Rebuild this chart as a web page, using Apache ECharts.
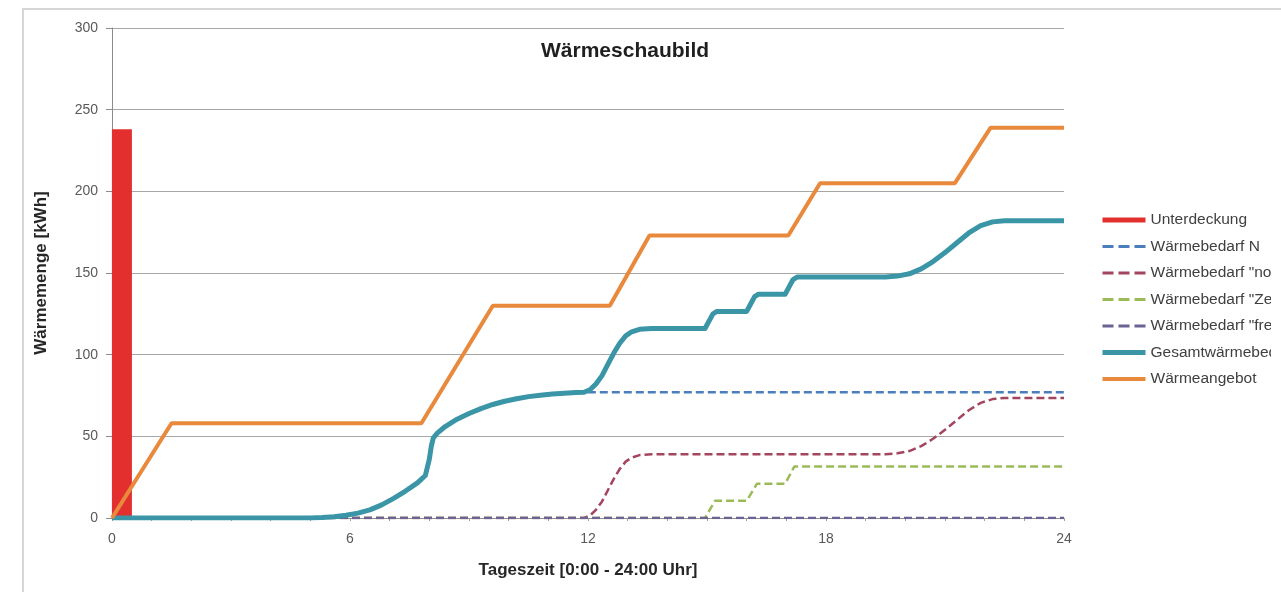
<!DOCTYPE html>
<html>
<head>
<meta charset="utf-8">
<script src="https://cdn.jsdelivr.net/npm/echarts@6/dist/echarts.min.js"></script>
<style>
  html, body { margin: 0; padding: 0; background: #ffffff; overflow: hidden; }
  #frame { position: absolute; left: 22px; top: 8px; width: 1300px; height: 620px;
           border-left: 2px solid #d6d6d6; border-top: 2px solid #d6d6d6; }
  #chart { position: absolute; left: 0; top: 0; width: 1271px; height: 592px; }
</style>
</head>
<body>
<div id="frame"></div>
<div id="chart"></div>
<script>
// Stunden des Tages [h], Wärmemengen [kWh]
const unterdeckung = [[0.25, 238]];

const bedarfN = [
  [0, 0], [5, 0], [5.3, 0.3], [5.6, 0.8], [5.9, 1.7], [6.2, 3], [6.5, 5], [6.8, 8],
  [7.1, 12], [7.4, 16.5], [7.7, 21.5], [7.9, 26], [8.0, 36], [8.05, 44], [8.1, 49],
  [8.2, 52], [8.4, 56], [8.7, 60.5], [9.0, 64], [9.3, 67], [9.6, 69.5], [9.9, 71.5],
  [10.2, 73], [10.5, 74.3], [10.8, 75.2], [11.1, 75.9], [11.4, 76.4], [11.7, 76.8],
  [11.95, 77], [24, 77]
];

const bedarfNormal = [
  [0, 0], [11.9, 0], [12.05, 1.5], [12.2, 5], [12.35, 10], [12.5, 17], [12.65, 24],
  [12.8, 30], [12.95, 34.5], [13.1, 37], [13.3, 38.5], [13.6, 39], [19.5, 39],
  [19.8, 39.6], [20.1, 41], [20.4, 44], [20.7, 48.5], [21.0, 54], [21.3, 60],
  [21.6, 66], [21.9, 70.5], [22.2, 72.8], [22.5, 73.5], [24, 73.5]
];

const bedarfZeit = [
  [0, 0], [14.95, 0], [15.2, 10.5], [16.0, 10.5], [16.26, 21],
  [16.97, 21], [17.2, 31.5], [24, 31.5]
];

const bedarfFrei = [[0, 0], [24, 0]];

const gesamt = [
  [0, 0], [5, 0], [5.3, 0.3], [5.6, 0.8], [5.9, 1.7], [6.2, 3], [6.5, 5], [6.8, 8],
  [7.1, 12], [7.4, 16.5], [7.7, 21.5], [7.9, 26], [8.0, 36], [8.05, 44], [8.1, 49],
  [8.2, 52], [8.4, 56], [8.7, 60.5], [9.0, 64], [9.3, 67], [9.6, 69.5], [9.9, 71.5],
  [10.2, 73], [10.5, 74.3], [10.8, 75.2], [11.1, 75.9], [11.4, 76.4], [11.7, 76.8],
  [11.9, 77], [12.05, 78.5], [12.2, 82], [12.35, 87], [12.5, 94], [12.65, 101],
  [12.8, 107], [12.95, 111.5], [13.1, 114], [13.3, 115.5], [13.6, 116],
  [14.95, 116], [15.05, 120.5], [15.15, 125], [15.25, 126.5], [16.0, 126.5],
  [16.1, 131], [16.2, 135.5], [16.3, 137], [16.97, 137], [17.07, 141.5],
  [17.17, 146], [17.27, 147.5], [19.5, 147.5], [19.8, 148.1], [20.1, 149.5],
  [20.4, 152.5], [20.7, 157], [21.0, 162.5], [21.3, 168.5], [21.6, 174.5],
  [21.9, 179], [22.2, 181.3], [22.5, 182], [24, 182]
];

const angebot = [
  [0, 0], [1.5, 58], [7.8, 58], [9.6, 130], [12.55, 130], [13.55, 173],
  [17.05, 173], [17.85, 205], [21.25, 205], [22.15, 239], [24, 239]
];

const xTicks = [0, 6, 12, 18, 24];

const FONT = "'Liberation Sans', Arial, sans-serif";

const dashed = (color) => ({ color: color, width: 2.5, type: [8, 4] });

// legend entries for lines: only the line sample, no marker dot
const lineEntry = (name, width, dash) => ({
  name: name,
  itemStyle: { color: 'rgba(0,0,0,0)', borderColor: 'rgba(0,0,0,0)', borderWidth: 0 },
  lineStyle: dash ? { width: width, type: [11, 5] } : { width: width, type: 'solid' }
});

const chart = echarts.init(document.getElementById('chart'), null, { renderer: 'canvas' });

chart.setOption({
  animation: false,
  textStyle: { fontFamily: FONT },
  title: {
    text: 'Wärmeschaubild',
    left: 536,
    top: 36,
    textStyle: { fontFamily: FONT, fontSize: 21, fontWeight: 'bold', color: '#1f1f1f' }
  },
  grid: { left: 112, right: 1271 - 1064, top: 28, bottom: 592 - 518 },
  legend: {
    orient: 'vertical',
    left: 1095,
    top: 207,
    itemWidth: 43,
    itemHeight: 14,
    itemGap: 10.5,
    textStyle: { fontFamily: FONT, fontSize: 15.5, color: '#404040' },
    data: [
      { name: 'Unterdeckung', icon: 'path://M0,0L43,0L43,5L0,5Z' },
      lineEntry('Wärmebedarf N', 3, true),
      lineEntry('Wärmebedarf "normal"', 3, true),
      lineEntry('Wärmebedarf "Zeit"', 3, true),
      lineEntry('Wärmebedarf "frei"', 3, true),
      lineEntry('Gesamtwärmebedarf', 5, false),
      lineEntry('Wärmeangebot', 4, false)
    ]
  },
  xAxis: {
    type: 'value',
    min: 0,
    max: 24,
    interval: 1,
    name: 'Tageszeit [0:00 - 24:00 Uhr]',
    nameLocation: 'middle',
    nameGap: 44,
    nameTextStyle: { fontFamily: FONT, fontSize: 17, fontWeight: 'bold', color: '#262626' },
    axisLine: { lineStyle: { color: '#8c8c8c', width: 1 } },
    axisTick: { show: true, length: 3, lineStyle: { color: '#a0a0a0' } },
    axisLabel: {
      margin: 14,
      fontSize: 14,
      color: '#595959',
      fontFamily: FONT,
      formatter: (v) => (xTicks.indexOf(v) >= 0 ? String(v) : '')
    },
    splitLine: { show: false }
  },
  yAxis: {
    type: 'value',
    min: 0,
    max: 300,
    interval: 50,
    name: 'Wärmemenge [kWh]',
    nameLocation: 'middle',
    nameGap: 62,
    nameTextStyle: { fontFamily: FONT, fontSize: 17, fontWeight: 'bold', color: '#262626' },
    axisLine: { show: true, lineStyle: { color: '#8c8c8c', width: 1 } },
    axisTick: { show: true, length: 6, lineStyle: { color: '#8c8c8c' } },
    axisLabel: { margin: 14, fontSize: 14, color: '#595959', fontFamily: FONT },
    splitLine: { show: true, lineStyle: { color: '#a6a6a6', width: 1 } }
  },
  series: [
    {
      name: 'Unterdeckung',
      type: 'bar',
      data: unterdeckung,
      barWidth: 20,
      itemStyle: { color: '#e3302f' },
      z: 1
    },
    {
      name: 'Wärmebedarf N',
      type: 'line',
      data: bedarfN,
      symbol: 'none',
      lineStyle: dashed('#4a7ebb'),
      itemStyle: { color: '#4a7ebb' },
      z: 2
    },
    {
      name: 'Wärmebedarf "normal"',
      type: 'line',
      data: bedarfNormal,
      symbol: 'none',
      lineStyle: dashed('#a4455f'),
      itemStyle: { color: '#a4455f' },
      z: 2
    },
    {
      name: 'Wärmebedarf "Zeit"',
      type: 'line',
      data: bedarfZeit,
      symbol: 'none',
      lineStyle: dashed('#9bbb59'),
      itemStyle: { color: '#9bbb59' },
      z: 2
    },
    {
      name: 'Wärmebedarf "frei"',
      type: 'line',
      data: bedarfFrei,
      symbol: 'none',
      lineStyle: dashed('#6c6293'),
      itemStyle: { color: '#6c6293' },
      z: 3
    },
    {
      name: 'Gesamtwärmebedarf',
      type: 'line',
      data: gesamt,
      symbol: 'none',
      lineStyle: { color: '#3a95a6', width: 5, join: 'round' },
      itemStyle: { color: '#3a95a6' },
      z: 4
    },
    {
      name: 'Wärmeangebot',
      type: 'line',
      data: angebot,
      symbol: 'none',
      lineStyle: { color: '#e8893c', width: 4 },
      itemStyle: { color: '#e8893c' },
      z: 5
    }
  ]
});
</script>
</body>
</html>
